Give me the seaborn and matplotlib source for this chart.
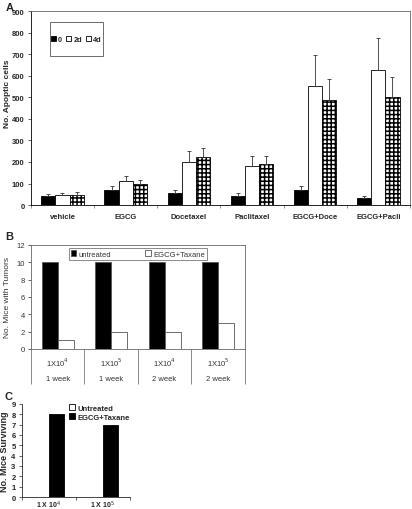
import numpy as np
import pandas as pd
import seaborn as sns
from matplotlib import pyplot as plt
from matplotlib.patches import Rectangle

# panel A: apoptotic cells
treatments = ['vehicle', 'EGCG', 'Docetaxel', 'Paclitaxel', 'EGCG+Doce', 'EGCG+Pacli']
times = ['0', '2d', '4d']
apop_0 = [40, 68, 55, 42, 68, 33]
apop_2d = [45, 110, 200, 182, 555, 625]
apop_4d = [48, 100, 222, 190, 490, 500]
err_0 = [12, 20, 17, 13, 19, 10]
err_2d = [12, 27, 52, 46, 140, 153]
err_4d = [12, 18, 43, 38, 95, 95]

# panel B: mice with tumors
groups_b = ['1X10$^4$\n1 week', '1X10$^5$\n1 week', '1X10$^4$\n2 week', '1X10$^5$\n2 week']
untreated_b = [10, 10, 10, 10]
taxane_b = [1, 2, 2, 3]

# panel C: mice surviving
groups_c = ['1 X 10$^4$', '1 X 10$^5$']
untreated_c = [0, 0]
taxane_c = [8, 7]

sns.set_style('white')
plt.rcParams['font.family'] = ['Liberation Sans', 'DejaVu Sans']
plt.rcParams['hatch.linewidth'] = 1.1
plt.rcParams['xtick.bottom'] = True
plt.rcParams['ytick.left'] = True

fig = plt.figure(figsize=(4.12, 5.10), dpi=100)
fs = 5.5

# ---------- A ----------
axA = fig.add_axes([0.075, 0.596, 0.920, 0.380])
dfA = pd.DataFrame({
    'treatment': treatments * 3,
    'time': sum([[t] * len(treatments) for t in times], []),
    'value': apop_0 + apop_2d + apop_4d,
    'err': err_0 + err_2d + err_4d,
})
sns.barplot(data=dfA, x='treatment', y='value', hue='time', order=treatments,
            hue_order=times, palette=['black', 'white', 'white'], width=0.67,
            edgecolor='black', linewidth=0.6, errorbar=None, ax=axA)
for cont, errs in zip(axA.containers, [err_0, err_2d, err_4d]):
    for p, e in zip(cont.patches, errs):
        axA.errorbar(p.get_x() + p.get_width() / 2, p.get_height(), yerr=[[0], [e]],
                     fmt='none', ecolor='#333333', elinewidth=0.6, capsize=1.5, capthick=0.6)
for p in axA.containers[2].patches:
    p.set_hatch('++++')
axA.set_ylim(0, 900)
axA.set_xlim(-0.5, 5.5)
axA.set_yticks(range(0, 901, 100))
axA.set_xlabel('')
axA.set_ylabel('No. Apoptic cells', fontsize=6, fontweight='bold', labelpad=3)
axA.yaxis.set_label_coords(-0.052, 0.58)
axA.set_xticks(np.arange(-0.5, 6, 1), minor=True)
axA.tick_params(axis='x', which='major', length=0, labelsize=fs, pad=6)
axA.tick_params(axis='x', which='minor', length=2.5, width=0.5, color='#666666')
axA.tick_params(axis='y', length=2.5, width=0.5, labelsize=fs, pad=2)
for lab in axA.get_xticklabels() + axA.get_yticklabels():
    lab.set_fontweight('bold')
for s in axA.spines.values():
    s.set_linewidth(0.6)
    s.set_color('#666666')
axA.spines['left'].set_color('black')
axA.spines['bottom'].set_color('black')
legA = axA.legend(loc='center', bbox_to_anchor=(0.12, 0.856), ncol=3, fontsize=5.3,
                  frameon=False, handlelength=0.7, handleheight=0.7, handletextpad=0.25,
                  columnspacing=0.6, borderpad=0, borderaxespad=0)
for t in legA.get_texts():
    t.set_fontweight('bold')
axA.add_patch(Rectangle((0.05, 0.768), 0.14, 0.175, transform=axA.transAxes,
                        fill=False, edgecolor='#555555', linewidth=0.6))
fig.text(0.015, 0.995, 'A', fontsize=8, fontweight='bold', va='top')

# ---------- B ----------
axB = fig.add_axes([0.075, 0.314, 0.519, 0.204])
dfB = pd.DataFrame({
    'group': groups_b * 2,
    'status': ['untreated'] * 4 + ['EGCG+Taxane'] * 4,
    'value': untreated_b + taxane_b,
})
sns.barplot(data=dfB, x='group', y='value', hue='status', order=groups_b,
            hue_order=['untreated', 'EGCG+Taxane'], palette=['black', 'white'],
            width=0.6, edgecolor='#555555', linewidth=0.6, errorbar=None, ax=axB)
axB.set_ylim(0, 12)
axB.set_xlim(-0.5, 3.5)
axB.set_yticks(range(0, 13, 2))
axB.set_xlabel('')
axB.set_ylabel('No. Mice with Tumors', fontsize=6, color='#333333')
axB.set_xticks(np.arange(-0.5, 4, 1), minor=True)
axB.tick_params(axis='x', which='major', length=0, labelsize=fs, pad=5,
                labelcolor='#333333')
axB.tick_params(axis='x', which='minor', length=25, width=0.6, color='#777777')
axB.tick_params(axis='y', length=2.5, width=0.5, labelsize=fs, pad=2,
                labelcolor='#333333')
for lab in axB.get_xticklabels():
    lab.set_linespacing(2.4)
for s in axB.spines.values():
    s.set_linewidth(0.6)
    s.set_color('#666666')
legB = axB.legend(loc='upper center', bbox_to_anchor=(0.5, 0.97), ncol=2, fontsize=5.5,
                  frameon=True, fancybox=False, edgecolor='#555555', handlelength=0.7,
                  handleheight=0.7, handletextpad=0.3, columnspacing=4.5,
                  borderpad=0.3, borderaxespad=0)
legB.get_frame().set_linewidth(0.6)
for t in legB.get_texts():
    t.set_color('#333333')
fig.text(0.012, 0.545, 'B', fontsize=8, fontweight='bold', va='top')

# ---------- C ----------
axC = fig.add_axes([0.053, 0.0235, 0.262, 0.1825])
dfC = pd.DataFrame({
    'group': groups_c * 2,
    'status': ['Untreated'] * 2 + ['EGCG+Taxane'] * 2,
    'value': untreated_c + taxane_c,
})
sns.barplot(data=dfC, x='group', y='value', hue='status', order=groups_c,
            hue_order=['Untreated', 'EGCG+Taxane'], palette=['white', 'black'],
            width=0.56, edgecolor='black', linewidth=0.6, errorbar=None, ax=axC)
axC.set_ylim(0, 9)
axC.set_xlim(-0.5, 1.5)
axC.set_yticks(range(0, 10))
axC.set_xlabel('')
axC.set_ylabel('No. Mice Surviving', fontsize=6.5, fontweight='bold', labelpad=2)
axC.set_xticks(np.arange(-0.5, 2, 1), minor=True)
axC.tick_params(axis='x', which='major', length=0, labelsize=5, pad=1)
axC.tick_params(axis='x', which='minor', length=2.5, width=0.5)
axC.tick_params(axis='y', length=2.5, width=0.5, labelsize=fs, pad=2)
for lab in axC.get_xticklabels() + axC.get_yticklabels():
    lab.set_fontweight('bold')
axC.spines['top'].set_visible(False)
axC.spines['right'].set_visible(False)
for s in ['left', 'bottom']:
    axC.spines[s].set_linewidth(0.6)
legC = axC.legend(loc='upper right', bbox_to_anchor=(1.0, 1.0), ncol=1, fontsize=5.5,
                  frameon=False, handlelength=0.8, handleheight=0.8, handletextpad=0.3,
                  labelspacing=0.2, borderpad=0, borderaxespad=0)
for t in legC.get_texts():
    t.set_fontweight('bold')
fig.text(0.012, 0.232, 'C', fontsize=8, fontweight='bold', va='top')

fig.savefig('out.png', dpi=100)
